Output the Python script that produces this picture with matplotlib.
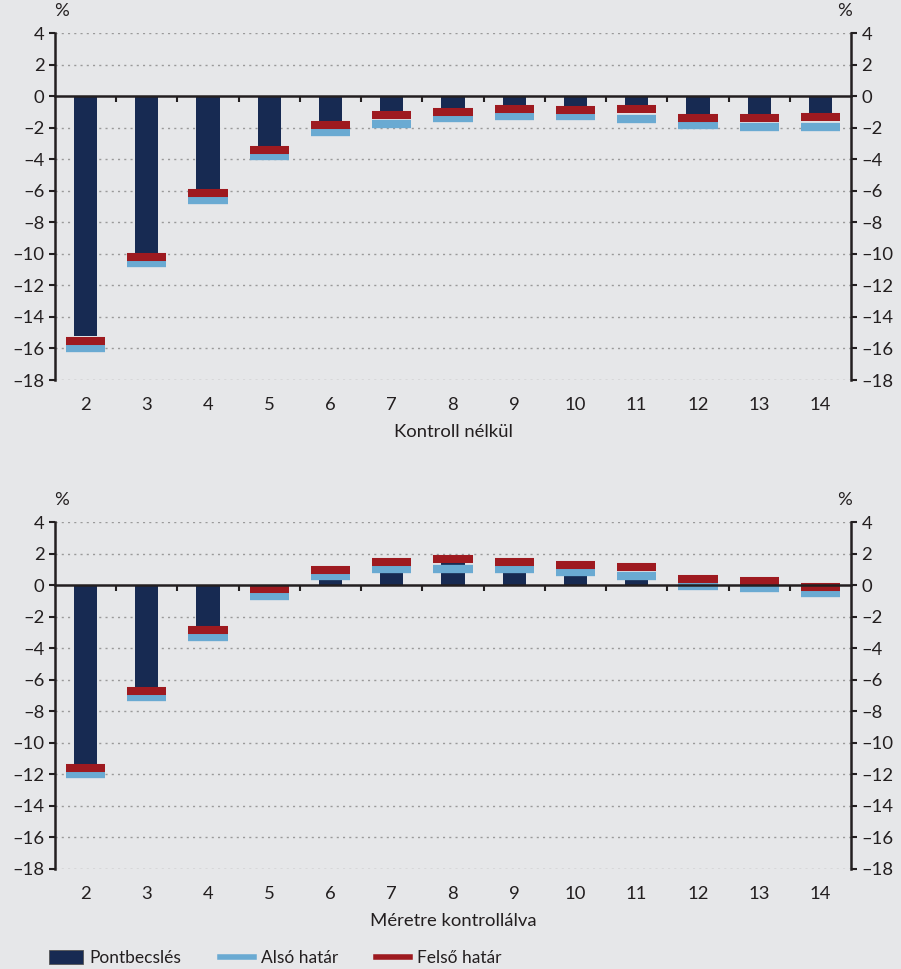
import matplotlib.pyplot as plt
import numpy as np
from matplotlib.patches import Patch
from matplotlib.lines import Line2D

plt.rcParams['font.family'] = ['Lato', 'DejaVu Sans']

categories = [2, 3, 4, 5, 6, 7, 8, 9, 10, 11, 12, 13, 14]

# Kontroll nelkul
point_top = [-15.2, -9.93, -5.87, -3.15, -1.57, -0.93, -0.74, -0.55, -0.61, -0.55, -1.12, -1.12, -1.55]
upper_top = [-15.5, -10.18, -6.13, -3.4, -1.82, -1.18, -0.98, -0.84, -0.9, -0.84, -1.37, -1.37, -1.32]
lower_top = [-15.95, -10.56, -6.57, -3.78, -2.26, -1.75, -1.37, -1.25, -1.25, -1.44, -1.82, -1.95, -1.95]

# Meretre kontrollalva
point_bot = [-11.35, -6.47, -2.6, -0.05, 0.8, 1.2, 1.5, 1.2, 0.9, 0.7, 0.2, 0.1, -0.2]
upper_bot = [-11.6, -6.72, -2.85, -0.25, 0.95, 1.46, 1.65, 1.46, 1.27, 1.14, 0.38, 0.25, -0.13]
lower_bot = [-12.0, -7.1, -3.3, -0.7, 0.57, 1.0, 1.0, 1.0, 0.82, 0.57, -0.06, -0.19, -0.51]

yticks = [4, 2, 0, -2, -4, -6, -8, -10, -12, -14, -16, -18]

bg = '#e6e7e9'
navy = '#172a52'
blue = '#6aaad2'
red = '#9e1a20'
dark = '#231f20'
fs = 13.3


def panel(ax, point, lower, upper, title):
    x = np.array(categories)
    ax.set_facecolor(bg)
    for y in yticks:
        if y != 0:
            ax.axhline(y, color='#9a9a9a', lw=1.0, ls=(0, (1.5, 3)), zorder=1)
    ax.bar(x, point, width=0.38, color=navy, zorder=2)
    ax.hlines(lower, x - 0.32, x + 0.32, color=blue, lw=6.0, zorder=3)
    ax.hlines(upper, x - 0.32, x + 0.32, color=red, lw=5.8, zorder=4)

    ax.set_xlim(1.5, 14.5)
    ax.set_ylim(-18, 4)
    ax.set_yticks(yticks)
    ax.set_yticklabels([str(v).replace('-', '\u2013') for v in yticks])
    ax.tick_params(axis='y', direction='out', length=4.5, width=1.5, color=dark,
                   labelsize=fs, labelcolor=dark, right=True, labelright=True, pad=3)

    # zero line as x axis with ticks between categories
    ax.spines['bottom'].set_position(('data', 0))
    ax.spines['bottom'].set_color(dark)
    ax.spines['bottom'].set_linewidth(1.8)
    ax.spines['bottom'].set_zorder(5)
    ax.set_xticks(np.arange(2.5, 14.5, 1))
    ax.tick_params(axis='x', direction='out', length=4, width=1.5, color=dark, labelbottom=False)
    ax.spines['top'].set_visible(False)
    for s in ['left', 'right']:
        ax.spines[s].set_color(dark)
        ax.spines[s].set_linewidth(1.8)

    sec = ax.secondary_xaxis('bottom')
    sec.set_xticks(categories)
    sec.set_xticklabels([str(c) for c in categories])
    sec.tick_params(length=0, labelsize=fs, labelcolor=dark, pad=12)
    sec.spines['bottom'].set_visible(False)
    sec.set_xlabel(title, fontsize=fs, color=dark, labelpad=8)

    ax.text(0.008, 1.04, '%', transform=ax.transAxes, ha='center', va='bottom', fontsize=fs, color=dark)
    ax.text(0.992, 1.04, '%', transform=ax.transAxes, ha='center', va='bottom', fontsize=fs, color=dark)


fig = plt.figure(figsize=(9.01, 9.69), dpi=100, facecolor=bg)
ax1 = fig.add_axes([0.061, 0.6078, 0.8835, 0.3581])
ax2 = fig.add_axes([0.061, 0.1032, 0.8835, 0.3581])

panel(ax1, point_top, lower_top, upper_top, 'Kontroll nélkül')
panel(ax2, point_bot, lower_bot, upper_bot, 'Méretre kontrollálva')

handles = [Patch(facecolor=navy, edgecolor='#555555', lw=0.6),
           Line2D([0], [0], color=blue, lw=4),
           Line2D([0], [0], color=red, lw=4)]
fig.legend(handles, ['Pontbecslés', 'Alsó határ', 'Felső határ'], ncol=3,
           loc='lower left', bbox_to_anchor=(0.037, -0.013), frameon=False,
           fontsize=12.5, handlelength=1.95, handleheight=0.85, handletextpad=0.4,
           columnspacing=2.2, labelcolor=dark)

fig.savefig('out.png', dpi=100, facecolor=bg)
